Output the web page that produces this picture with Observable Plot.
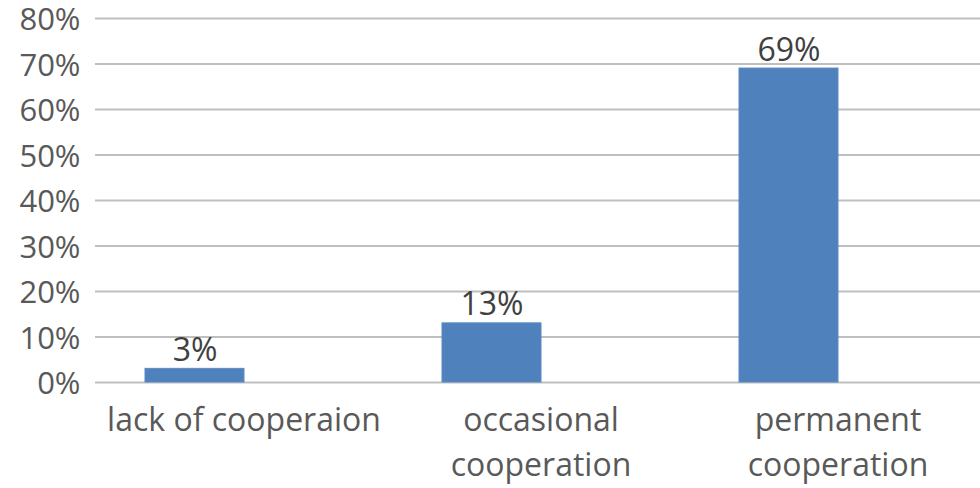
<!DOCTYPE html>
<html>
<head>
<meta charset="utf-8">
<script src="https://cdn.jsdelivr.net/npm/d3@7"></script>
<script src="https://cdn.jsdelivr.net/npm/@observablehq/plot@0.6"></script>
<style>
  html, body { margin: 0; padding: 0; background: #fff; overflow: hidden; }
  svg { display: block; }
</style>
</head>
<body>
<div id="chart"></div>
<script>
const categories = ["lack of cooperaion", "occasional\ncooperation", "permanent\ncooperation"];
const values = [0.03, 0.13, 0.69];
// Excel clustered layout: a second, empty series slot sits beside each bar
const seriesSlots = ["Series1", "Series2"];
const yTicks = [0, 0.1, 0.2, 0.3, 0.4, 0.5, 0.6, 0.7, 0.8];

const data = categories.map((c, i) => ({ category: c, series: "Series1", value: values[i] }));
const pct = d => Math.round(d * 100) + "%";

const chart = Plot.plot({
  width: 980,
  height: 488,
  marginLeft: 95,
  marginRight: -6,
  marginTop: 18,
  marginBottom: 106,
  style: { fontFamily: "'Open Sans', sans-serif", background: "#fff" },
  fx: { domain: categories, padding: 0, axis: null },
  x: { domain: seriesSlots, paddingInner: 0, paddingOuter: 0.49, axis: null },
  y: { domain: [0, 0.8], axis: null },
  marks: [
    Plot.ruleY(yTicks, { stroke: "#bfbfbf", strokeWidth: 2 }),
    Plot.barY(data, { fx: "category", x: "series", y: "value", fill: "#4f81bd", stroke: "#5a8ac4", strokeWidth: 1 }),
    Plot.text(data, {
      fx: "category", x: "series", y: "value", text: d => pct(d.value),
      lineAnchor: "bottom", dy: -8, fontSize: 32, fill: "#404040"
    }),
    Plot.axisY({
      ticks: yTicks, tickFormat: pct, tickSize: 0, tickPadding: 15, dy: 2,
      fontSize: 31, color: "#595959", label: null
    }),
    Plot.axisFx({
      anchor: "bottom", tickSize: 0, tickPadding: 17, fontSize: 32, color: "#595959",
      lineHeight: 1.4, label: null
    })
  ]
});
document.getElementById("chart").appendChild(chart);
</script>
</body>
</html>
